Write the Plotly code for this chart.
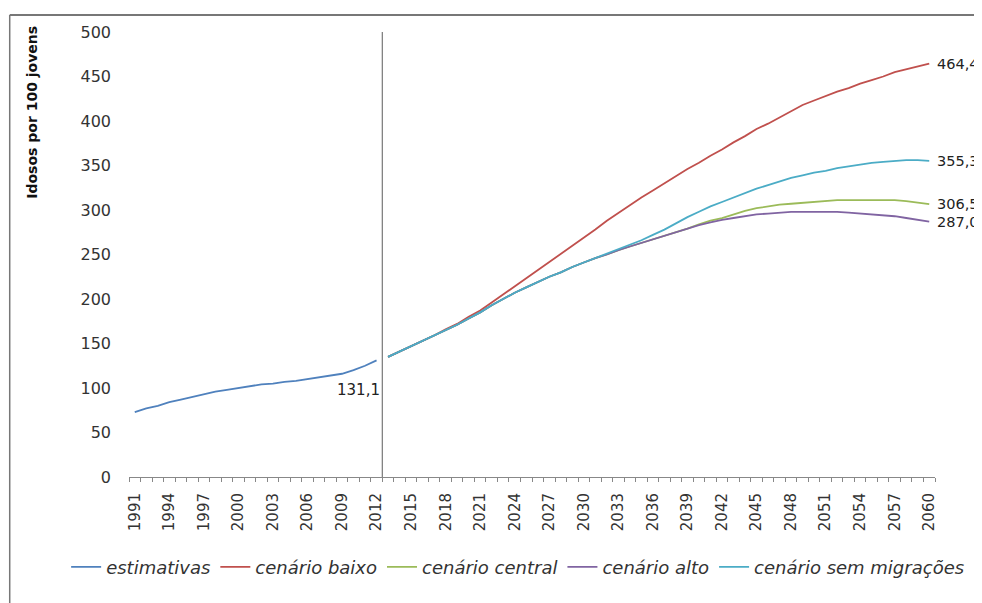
import plotly.graph_objects as go

years_est = list(range(1991, 2013))
estimativas = [73, 77, 80, 84, 87, 90, 93, 96, 98, 100, 102, 104, 105, 107, 108, 110,
               112, 114, 116, 120, 125, 131.1]

years_proj = list(range(2013, 2061))
cenario_baixo = [135, 141, 147, 153, 159, 166, 172, 180, 187, 196, 205, 214, 224, 233, 242, 251,
                 260, 269, 278, 288, 297, 305, 314, 322, 330, 338, 346, 353, 361, 368, 376, 383,
                 391, 397, 404, 411, 418, 423, 428, 433, 437, 442, 446, 450, 455, 458, 461, 464.4]
cenario_central = [135, 141, 147, 153, 159, 165, 171, 178, 185, 193, 200, 207, 213, 219, 225, 230,
                   236, 241, 246, 250, 255, 259, 263, 267, 271, 275, 279, 284, 288, 291, 295, 299,
                   302, 304, 306, 307, 308, 309, 310, 311, 311, 311, 311, 311, 311, 310, 308, 306.5]
cenario_alto = [135, 141, 147, 153, 159, 165, 171, 178, 185, 193, 200, 207, 213, 219, 225, 230,
                236, 241, 246, 250, 255, 259, 263, 267, 271, 275, 279, 283, 286, 289, 291, 293,
                295, 296, 297, 298, 298, 298, 298, 298, 297, 296, 295, 294, 293, 291, 289, 287.0]
cenario_sem_migracoes = [135, 141, 147, 153, 159, 165, 171, 178, 185, 193, 200, 207, 213, 219, 225, 230,
                         236, 241, 246, 251, 256, 261, 266, 272, 278, 285, 292, 298, 304, 309, 314, 319,
                         324, 328, 332, 336, 339, 342, 344, 347, 349, 351, 353, 354, 355, 356, 356, 355.3]

series_names = ["estimativas", "cenário baixo", "cenário central", "cenário alto", "cenário sem migrações"]
colors = ["#4F81BD", "#C0504D", "#9BBB59", "#8064A2", "#4BACC6"]
end_labels = ["464,4", "306,5", "287,0", "355,3"]
est_label = "131,1"
y_title = "Idosos por 100 jovens"
tick_years = list(range(1991, 2061, 3))

FONT = "DejaVu Sans"

fig = go.Figure()
fig.add_trace(go.Scatter(x=years_est, y=estimativas, mode="lines", name=series_names[0],
                         line=dict(color=colors[0], width=1.8)))
proj = [cenario_baixo, cenario_central, cenario_alto, cenario_sem_migracoes]
for i, s in enumerate(proj):
    fig.add_trace(go.Scatter(x=years_proj, y=s, mode="lines", name=series_names[i + 1],
                             line=dict(color=colors[i + 1], width=1.8)))

# end labels
for s, lab in zip(proj, end_labels):
    fig.add_annotation(x=years_proj[-1], y=s[-1], text=lab, showarrow=False,
                       xanchor="left", yanchor="middle", xshift=6,
                       font=dict(family=FONT, size=14.5, color="#222"))
fig.add_annotation(x=2012.5, y=estimativas[-1], text=est_label, showarrow=False,
                   xanchor="right", yanchor="top", yshift=-19, xshift=0,
                   font=dict(family=FONT, size=15, color="#222"))

# y title
fig.add_annotation(xref="paper", yref="paper", x=-0.12, y=1.018, text="<b>" + y_title + "</b>",
                   textangle=-90, showarrow=False, xanchor="center", yanchor="top",
                   font=dict(family=FONT, size=14, color="#111"))

# vertical separator
fig.add_shape(type="line", xref="x", yref="y", x0=2012.5, x1=2012.5, y0=0, y1=500,
              line=dict(color="#777", width=1.2))

# frame lines
fig.add_shape(type="line", xref="paper", yref="paper", x0=-0.148, x1=1.1, y0=1.038, y1=1.038,
              line=dict(color="#777", width=2))
fig.add_shape(type="line", xref="paper", yref="paper", x0=-0.148, x1=-0.148, y0=1.038, y1=-0.3,
              line=dict(color="#777", width=1.5))

fig.update_layout(
    width=982, height=603,
    margin=dict(l=121, r=55, t=24, b=134),
    plot_bgcolor="white", paper_bgcolor="white",
    showlegend=True,
    legend=dict(orientation="h", x=-0.078, y=-0.161, xanchor="left", yanchor="top",
                font=dict(family=FONT, size=18, color="#333", style="italic"),
                itemwidth=30, tracegroupgap=0),
    xaxis=dict(range=[1990.5, 2060.5], tickmode="array", tickvals=tick_years,
               ticktext=[str(y) for y in tick_years], tickangle=-90, ticks="",
               showgrid=False, zeroline=False, showline=True, linecolor="#888", linewidth=1,
               automargin=False, ticklabelstandoff=9,
               tickfont=dict(family=FONT, size=15, color="#333"),
               minor=dict(tickmode="linear", tick0=1990.5, dtick=1, ticks="outside",
                          ticklen=4, tickcolor="#888", showgrid=False)),
    yaxis=dict(range=[0, 500], tickmode="linear", tick0=0, dtick=50, showgrid=False,
               zeroline=False, showline=False, ticks="", automargin=False,
               tickfont=dict(family=FONT, size=16, color="#333"), ticklabelstandoff=17),
)

fig.write_html("out.html")
